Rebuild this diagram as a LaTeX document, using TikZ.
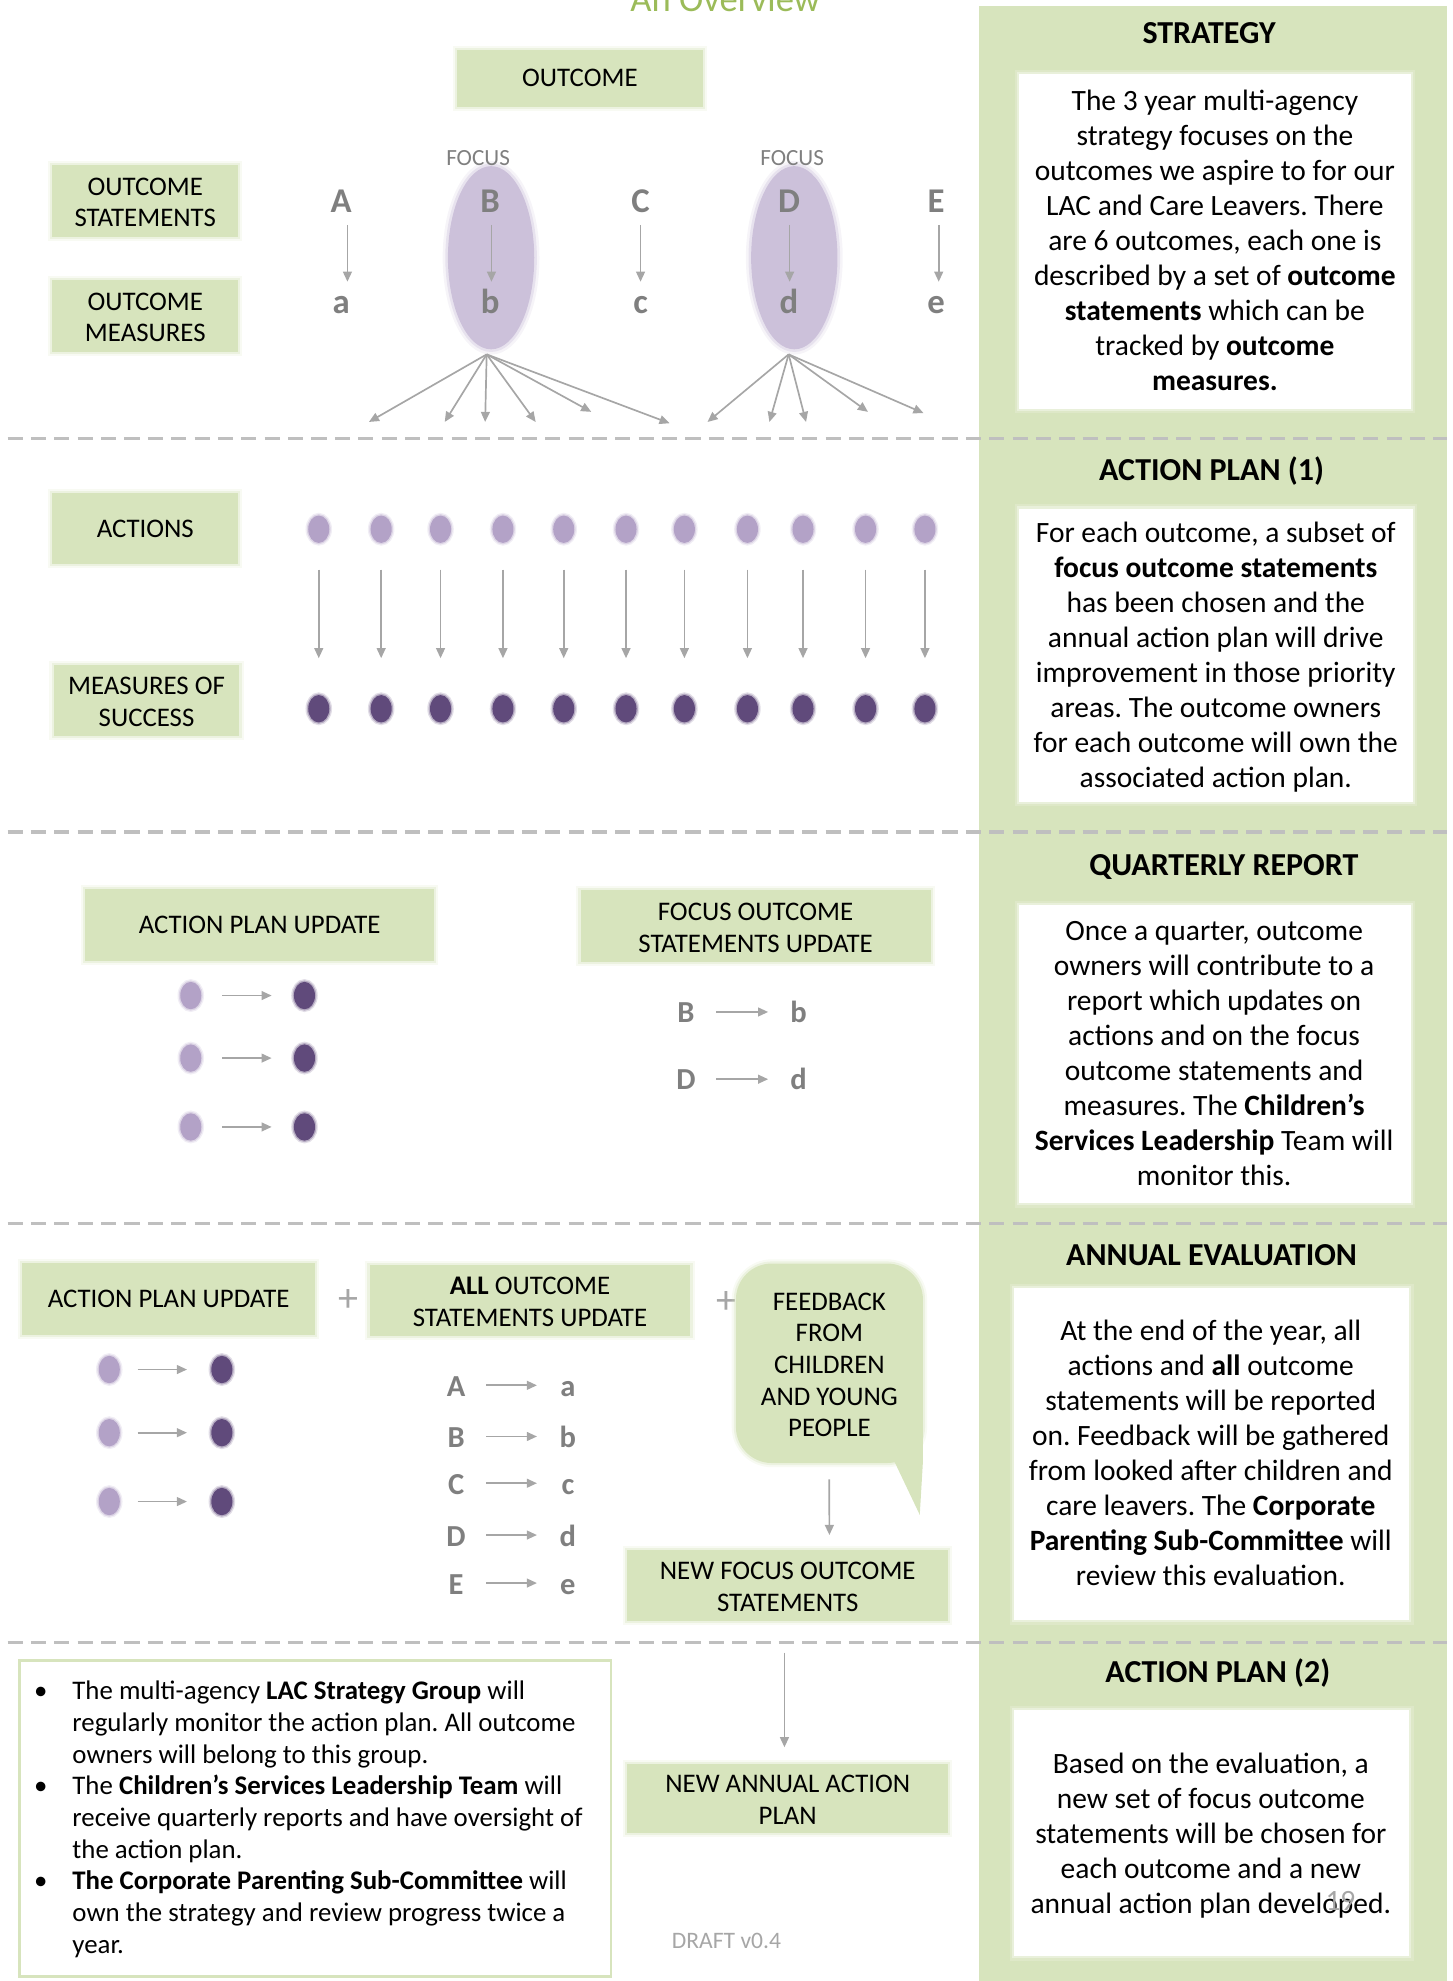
\documentclass[tikz,border=0pt]{standalone}
\usepackage{fontspec}
\setmainfont{Carlito}
\usetikzlibrary{arrows.meta,calc,shapes.geometric}
\frenchspacing
\definecolor{boxgreen}{HTML}{D7E4BD}
\definecolor{ltpurple}{HTML}{B3A2C7}
\definecolor{dkpurple}{HTML}{604A7B}
\definecolor{lavender}{HTML}{CCC1DA}
\definecolor{arrowgray}{HTML}{A6A6A6}
\definecolor{lettergray}{HTML}{7F7F7F}
\definecolor{dashgray}{HTML}{BFBFBF}
\definecolor{titlegreen}{HTML}{9BBB59}
\newcommand\lblfont{\fontsize{12.75}{15.04}\selectfont}
\newcommand\bodyfont{\fontsize{14}{16.62}\selectfont}
\newcommand\hdrfont{\fontsize{15.2}{18}\selectfont\bfseries}
\newcommand\mlines[1]{\begin{tabular}[t]{@{}c@{}}#1\end{tabular}}
\newcommand\glines[1]{\raisebox{-1.8pt}[\height][\depth]{\mlines{#1}}}
\newcommand\boxnode[7]{\node[#2, minimum width={(#5-#3-3)*0.6pt}, minimum height={(#6-#4-3)*0.6pt}] (#1) at ({(#3+#5)/2},{(#4+#6)/2}) {#7};}
\tikzset{
 soft/.style n args={3}{preaction={draw=#1, line width=#2, draw opacity=0.18}, preaction={draw=#1, line width=#3, draw opacity=0.35}},
 gbox/.style={fill=boxgreen, soft={boxgreen}{4pt}{2pt}, inner sep=0pt, outer sep=0pt, align=center, font=\lblfont},
 wbox/.style={fill=white, soft={white}{4pt}{2pt}, inner sep=0pt, outer sep=0pt},
 bulbox/.style={fill=white, draw=boxgreen, line width=1.2pt, inner sep=0pt, outer sep=0pt},
 bubblebox/.style={fill=boxgreen, soft={boxgreen}{4pt}{2pt}, rounded corners=17pt, inner sep=0pt, outer sep=0pt, align=center, font=\lblfont},
 arr/.style={draw=arrowgray, line width=0.8pt, -{Triangle[length=4.8pt,width=4.2pt]}},
 softdot/.style={ellipse, fill=#1, soft={#1}{2.6pt}{1.3pt}, inner sep=0pt, outer sep=0pt, minimum width=10pt, minimum height=13pt},
 ltdot/.style={softdot=ltpurple},
 dkdot/.style={softdot=dkpurple},
 focusoval/.style={ellipse, fill=lavender, soft={lavender}{5pt}{2.5pt}, inner sep=0pt, outer sep=0pt, minimum width=41pt, minimum height=87pt},
 letter/.style={text=lettergray, font=\fontsize{16.5}{18}\selectfont\bfseries, inner sep=0pt, anchor=base},
 sletter/.style={text=lettergray, font=\fontsize{14.5}{16}\selectfont\bfseries, inner sep=0pt, anchor=base},
 focuslbl/.style={text=lettergray, font=\fontsize{11}{13}\selectfont, inner sep=0pt, anchor=base},
 plus/.style={text=arrowgray, font=\fontsize{19}{21}\selectfont, inner sep=0pt},
 divider/.style={draw=dashgray, line width=1.6pt, dash pattern=on 7.2pt off 3.9pt},
 bodytext/.style={font=\bodyfont, inner sep=0pt, anchor=base},
 header/.style={font=\hdrfont, inner sep=0pt, anchor=base},
}
\begin{document}
\begin{tikzpicture}[x=0.6pt,y=-0.6pt]
\useasboundingbox (0,0) rectangle (1150,1568);
% title
\node[anchor=base, text=titlegreen, font=\fontsize{17.4}{20}\selectfont, inner sep=0pt] (title) at (574,9) {An Overview};
% right column
\fill[boxgreen] (775,5) rectangle (1145,1572);
\boxnode{wS}{wbox}{805}{57}{1118}{325}{}
\boxnode{wA}{wbox}{805}{401}{1120}{636}{}
\boxnode{wQ}{wbox}{805}{715}{1118}{954}{}
\boxnode{wE}{wbox}{801}{1018}{1117}{1284}{}
\boxnode{wP}{wbox}{801}{1352}{1117}{1550}{}
\node[header] (hS) at (957,34.8) {STRATEGY};
\node[header] (hA) at (959,380.5) {ACTION PLAN (1)};
\node[header] (hQ) at (968.7,693) {QUARTERLY REPORT};
\node[header] (hE) at (959,1001.7) {ANNUAL EVALUATION};
\node[header] (hP) at (964,1331.5) {ACTION PLAN (2)};
\node[bodytext] (tS) at (961.6,87.5) {\mlines{The 3 year multi-agency\\ strategy focuses on the\\ outcomes we aspire to for our\\ LAC and Care Leavers. There\\ are 6 outcomes, each one is\\ described by a set of \textbf{outcome}\\ \textbf{statements} which can be\\ tracked by \textbf{outcome}\\ \textbf{measures.}}};
\node[bodytext] (tA) at (962.3,429.2) {\mlines{For each outcome, a subset of\\ \textbf{focus outcome statements}\\ has been chosen and the\\ annual action plan will drive\\ improvement in those priority\\ areas. The outcome owners\\ for each outcome will own the\\ associated action plan.}};
\node[bodytext] (tQ) at (961,744.5) {\mlines{Once a quarter, outcome\\ owners will contribute to a\\ report which updates on\\ actions and on the focus\\ outcome statements and\\ measures. The \textbf{Children’s}\\ \textbf{Services Leadership} Team will\\ monitor this.}};
\node[bodytext] (tE) at (958.3,1061) {\mlines{At the end of the year, all\\ actions and \textbf{all} outcome\\ statements will be reported\\ on. Feedback will be gathered\\ from looked after children and\\ care leavers. The \textbf{Corporate}\\ \textbf{Parenting Sub-Committee} will\\ review this evaluation.}};
\node[bodytext] (tP) at (958.4,1403.5) {\mlines{Based on the evaluation, a\\ new set of focus outcome\\ statements will be chosen for\\ each outcome and a new\\ annual action plan developed.}};
\node[anchor=base, text=arrowgray, font=\fontsize{14}{16}\selectfont, inner sep=0pt] (pgnum) at (1061,1512) {19};
% dividers
\foreach \y in {347,658.5,968.5,1300} \draw[divider] (6,\y) -- (1145,\y);
% section 1
\boxnode{oc}{gbox}{360}{38}{558}{86}{OUTCOME}
\boxnode{os}{gbox}{40}{129}{190}{189}{\glines{OUTCOME\\STATEMENTS}}
\boxnode{om}{gbox}{40}{220}{190}{280}{\glines{OUTCOME\\MEASURES}}
\node[focusoval] (eB) at (388.7,204) {};
\node[focusoval] (eD) at (628.7,204) {};
\node[focuslbl] (fcB) at (378.4,131) {FOCUS};
\node[focuslbl] (fcD) at (627,131) {FOCUS};
\foreach \U/\l/\x/\dx in {A/a/270/5, B/b/388/1, C/c/507/0, D/d/624.5/0.5, E/e/741/2} {
  \node[letter] (s\U) at (\x,168) {\U};
  \node[letter] (o\l) at (\x,248) {\l};
  \draw[arr] ($(s\U.base)+(\dx,10)$) -- ($(o\l.base)+(\dx,-25)$);
}
\coordinate (bf1) at (292,334);
\coordinate (bf2) at (352,334);
\coordinate (bf3) at (384,334);
\coordinate (bf4) at (424,334);
\coordinate (bf5) at (468,326);
\coordinate (bf6) at (530,335);
\coordinate (df1) at (560,334);
\coordinate (df2) at (609,334);
\coordinate (df3) at (638,334);
\coordinate (df4) at (687,326);
\coordinate (df5) at (731,327);
\foreach \k in {1,...,6} \draw[arr] ($(eB.south)+(-3.5,4)$) -- (bf\k);
\foreach \k in {1,...,5} \draw[arr] ($(eD.south)+(-4.5,4)$) -- (df\k);
% section 2
\boxnode{ac}{gbox}{40}{389}{190}{448}{ACTIONS}
\boxnode{ms}{gbox}{41}{525}{191}{584}{\glines{MEASURES OF\\SUCCESS}}
\foreach \i/\x in {1/252.3,2/301.7,3/348.7,4/398.1,5/446.2,6/495.5,7/541.7,8/591.6,9/635.6,10/685.1,11/732.1} {
  \node[ltdot] (t\i) at (\x,418.9) {};
  \node[dkdot] (m\i) at (\x,561) {};
  \draw[arr] ($(t\i.center)+(0,32)$) -- ($(m\i.center)+(0,-40)$);
}
% section 3
\boxnode{apu}{gbox}{66}{702}{345}{762}{ACTION PLAN UPDATE}
\boxnode{fsu}{gbox}{458}{703}{738}{763}{\glines{FOCUS OUTCOME\\STATEMENTS UPDATE}}
\foreach \i/\y in {1/788,2/837.5,3/892} {
  \node[ltdot] (p\i) at (151,\y) {};
  \node[dkdot] (q\i) at (241,\y) {};
  \draw[arr] ($(p\i.center)+(25,0)$) -- ($(q\i.center)+(-26,0)$);
}
\foreach \U/\l/\y in {B/b/809.5, D/d/862.7} {
  \node[sletter] (f\U) at (543,\y) {\U};
  \node[sletter] (g\l) at (632,\y) {\l};
  \draw[arr] ($(f\U.base)+(24,-8.5)$) -- ($(g\l.base)+(-24,-8.5)$);
}
% section 4
\boxnode{apu2}{gbox}{16}{998.5}{251}{1058}{ACTION PLAN UPDATE}
\node[plus] (plus1) at (275.5,1029.4) {+};
\boxnode{asu}{gbox}{291}{1000}{548}{1059}{\glines{\textbf{ALL} OUTCOME\\STATEMENTS UPDATE}}
\node[plus] (plus2) at (574.7,1031) {+};
\boxnode{bubble}{bubblebox}{581}{998.6}{732}{1159.5}{\glines{FEEDBACK\\FROM\\CHILDREN\\AND YOUNG\\PEOPLE}}
\fill[boxgreen] (708,1157) -- (730.5,1120) -- (730.5,1157) -- (728,1199) -- cycle;
\foreach \i/\y in {1/1084,2/1134,3/1188.5} {
  \node[ltdot] (u\i) at (86.5,\y) {};
  \node[dkdot] (v\i) at (175.6,\y) {};
  \draw[arr] ($(u\i.center)+(22.5,0)$) -- ($(v\i.center)+(-27.6,0)$);
}
\foreach \U/\l/\y in {A/a/1105.5, B/b/1146, C/c/1183, D/d/1224, E/e/1262} {
  \node[sletter] (x\U) at (361,\y) {\U};
  \node[sletter] (y\l) at (449.5,\y) {\l};
  \draw[arr] ($(x\U.base)+(24,-9)$) -- ($(y\l.base)+(-24.5,-9)$);
}
\boxnode{nf}{gbox}{495}{1225.3}{752}{1284.6}{\glines{NEW FOCUS OUTCOME\\STATEMENTS}}
\draw[arr] ($(bubble.south)+(-0.2,13)$) -- ($(nf.north)+(33,-11.8)$);
% section 5
\boxnode{na}{gbox}{495}{1394.5}{752}{1452}{\glines{NEW ANNUAL ACTION\\PLAN}}
\draw[arr] ($(nf.south)+(-2.6,25)$) -- ($(na.north)+(-2.6,-13)$);
\boxnode{bul}{bulbox}{14}{1313}{485}{1566}{}
\node[anchor=base west, inner sep=0pt, font=\lblfont] (bultext) at (24,1345.5) {\begin{tabular}[t]{@{}l@{\hspace{10.2pt}}l@{}}
\makebox[9.6pt]{•} & The multi-agency \textbf{LAC Strategy Group} will\\
 & regularly monitor the action plan. All outcome\\
 & owners will belong to this group.\\
\makebox[9.6pt]{•} & The \textbf{Children’s Services Leadership Team} will\\
 & receive quarterly reports and have oversight of\\
 & the action plan.\\
\makebox[9.6pt]{•} & \textbf{The Corporate Parenting Sub-Committee} will\\
 & own the strategy and review progress twice a\\
 & year.
\end{tabular}};
\node[anchor=base, text=arrowgray, font=\fontsize{11.2}{13}\selectfont, inner sep=0pt] (draft) at (575,1542) {DRAFT v0.4};
\end{tikzpicture}
\end{document}
